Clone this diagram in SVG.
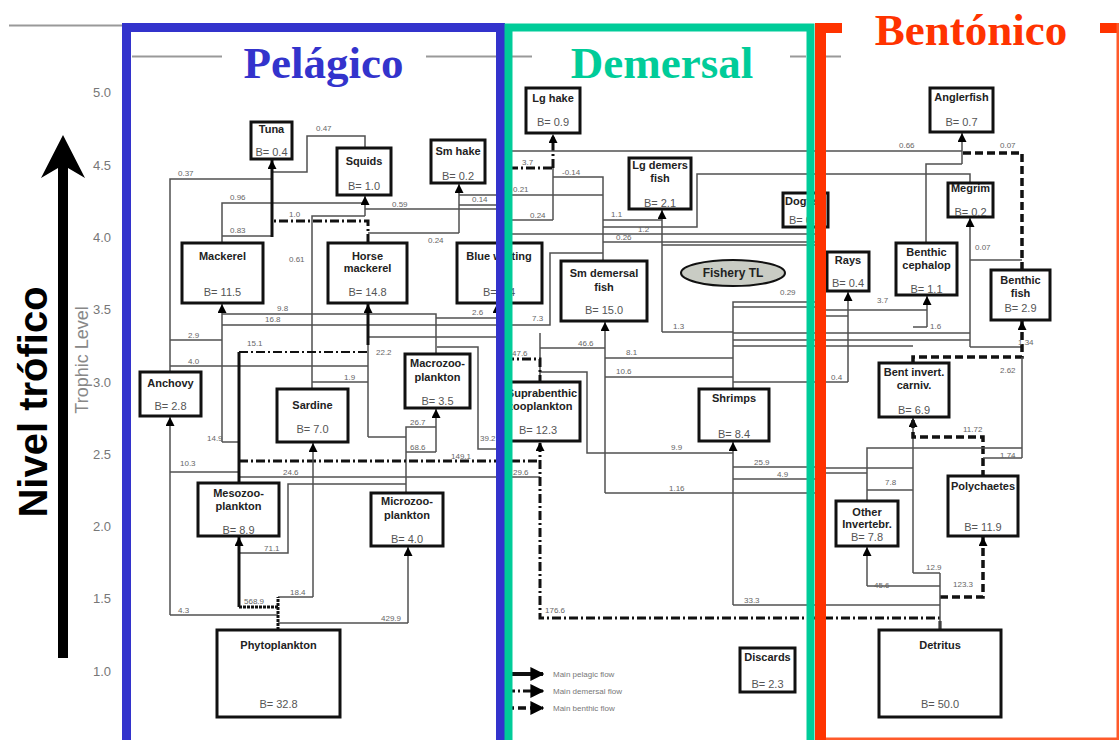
<svg xmlns="http://www.w3.org/2000/svg" width="1119" height="740" viewBox="0 0 1119 740">
<defs>
<marker id="ah" viewBox="0 0 10 10" refX="10" refY="5" markerWidth="10" markerHeight="9" orient="auto" markerUnits="userSpaceOnUse"><path d="M0,0 L10,5 L0,10 z" fill="#000"/></marker>
<marker id="ahL" viewBox="0 0 10 10" refX="9" refY="5" markerWidth="14" markerHeight="14" orient="auto" markerUnits="userSpaceOnUse"><path d="M0,0 L10,5 L0,10 z" fill="#000"/></marker>
<style>
.ln{fill:none;stroke:#505050;stroke-width:1.5}
.tk{fill:none;stroke:#111;stroke-width:3}
.dd{fill:none;stroke:#111;stroke-width:3;stroke-dasharray:9 3 2 3}
.ds{fill:none;stroke:#111;stroke-width:3.5;stroke-dasharray:8 4}
.box{fill:#fff;stroke:#111;stroke-width:3}
.nm{font-family:"Liberation Sans",Arial,sans-serif;font-weight:bold;font-size:11px;fill:#222;text-anchor:middle}
.bv{font-family:"Liberation Sans",Arial,sans-serif;font-size:11px;fill:#555;text-anchor:middle}
.n{font-family:"Liberation Sans",Arial,sans-serif;font-size:8px;fill:#666}
.tick{font-family:"Liberation Sans",Arial,sans-serif;font-size:13px;fill:#777;text-anchor:end}
.ttl{font-family:"Liberation Serif","Times New Roman",serif;font-weight:bold;font-size:45px;text-anchor:middle}
.lg{font-family:"Liberation Sans",Arial,sans-serif;font-size:8px;fill:#777}
</style>
</defs>
<rect width="1119" height="740" fill="#fff"/>

<g id="axis">
<line x1="9" y1="25.5" x2="122" y2="25.5" stroke="#999" stroke-width="2"/>
<polygon points="63,135 85,178 68,168 68,658 58,658 58,168 41,178" fill="#000"/>
<text transform="translate(47,402) rotate(-90)" font-family="Liberation Sans,Arial,sans-serif" font-weight="bold" font-size="40" text-anchor="middle" fill="#000">Nivel trófico</text>
<text transform="translate(88,360) rotate(-90)" font-family="Liberation Sans,Arial,sans-serif" font-size="18" text-anchor="middle" fill="#888">Trophic Level</text>
<text class="tick" x="111" y="97">5.0</text>
<text class="tick" x="111" y="170">4.5</text>
<text class="tick" x="111" y="242">4.0</text>
<text class="tick" x="111" y="314">3.5</text>
<text class="tick" x="111" y="387">3.0</text>
<text class="tick" x="111" y="459">2.5</text>
<text class="tick" x="111" y="531">2.0</text>
<text class="tick" x="111" y="603">1.5</text>
<text class="tick" x="111" y="676">1.0</text>
</g>

<g id="connectors">
<!-- pelagic -->
<path class="ln" d="M170,372 V179 H272"/>
<path class="ln" d="M365,148 V136 H307 V172 H272"/>
<path class="ln" d="M222,243 V203 H365"/>
<path class="ln" d="M222,236 H272"/>
<path class="ln" d="M312,389 V216 H365"/>
<path class="ln" d="M365,209 H500"/>
<path class="ln" d="M368,233 H459"/>
<path class="ln" d="M459,195 H603"/>
<path class="ln" d="M459,205 H505"/>
<path class="ln" d="M222,314 H436 V354"/>
<path class="ln" d="M436,318 H497"/>
<path class="ln" d="M603,253 H550 V325 H222"/>
<path class="ln" d="M170,340 H222"/>
<path class="ln" d="M170,366 H368"/>
<path class="ln" d="M368,337 H505"/>
<path class="ln" d="M312,382 H368"/>
<path class="ln" d="M222,442 H239"/>
<path class="ln" d="M406,493 V427 H436"/>
<path class="ln" d="M406,452 H436"/>
<path class="ln" d="M437,347 H478 V449 H505"/>
<path class="ln" d="M170,472 H239"/>
<path class="ln" d="M239,477 H540"/>
<path class="ln" d="M239,553 H288 V484 H406"/>
<path class="ln" d="M278,597 H313"/>
<path class="ln" d="M278,615 H170"/>
<path class="ln" d="M278,623 H408"/>
<path class="dd" d="M368,243 V221 H272"/>
<path class="dd" style="stroke-width:2" d="M239,352 H368"/>
<path class="dd" d="M239,461 H540"/>
<path class="tk" d="M239,483 V352"/>
<path class="tk" style="stroke-dasharray:3 1" d="M278,630 V597"/>
<path class="tk" style="stroke-dasharray:3 1" d="M278,607 H239"/>
<!-- pelagic input trunks -->
<path class="tk" marker-end="url(#ah)" d="M272,237 V160"/>
<path class="ln" marker-end="url(#ah)" d="M365,216 V196"/>
<path class="ln" marker-end="url(#ah)" d="M459,233 V184"/>
<path class="ln" marker-end="url(#ah)" d="M222,442 V304"/>
<path class="ln" d="M368,437 H406"/>
<path class="ln" d="M368,437 V340"/>
<path class="tk" marker-end="url(#ah)" d="M368,345 V304"/>
<path class="ln" marker-end="url(#ah)" d="M497,318 V304"/>
<path class="ln" marker-end="url(#ah)" d="M170,615 V417"/>
<path class="ln" marker-end="url(#ah)" d="M313,597 V443"/>
<path class="ln" marker-end="url(#ah)" d="M436,452 V409"/>
<path class="tk" marker-end="url(#ah)" d="M239,607 V537"/>
<path class="ln" marker-end="url(#ah)" d="M408,623 V547"/>

<!-- demersal -->
<path class="dd" d="M499,243 V168 H553"/>
<path class="ln" d="M553,220 V168"/>
<path class="dd" marker-end="url(#ah)" d="M553,168 V134"/>
<path class="ln" d="M603,261 V177 H553"/>
<path class="ln" d="M512,151 H962"/>
<path class="ln" d="M500,220 H553"/>
<path class="ln" d="M603,220 H662"/>
<path class="ln" marker-end="url(#ah)" d="M662,332 V210"/>
<path class="ln" d="M733,332 H662"/>
<path class="ln" d="M733,389 V302 H820"/>
<path class="ln" d="M733,307 H820"/>
<path class="ln" d="M970,183 V174 H697 V227 H603"/>
<path class="ln" d="M505,234 H820"/>
<path class="ln" d="M603,242 H820"/>
<path class="ln" d="M662,245 H820"/>
<path class="ln" marker-end="url(#ah)" d="M605,493 V322"/>
<path class="ln" d="M540,382 V333"/>
<path class="ln" d="M540,348 H605"/>
<path class="ln" d="M605,358 H733"/>
<path class="ln" d="M605,377 H733"/>
<path class="ln" d="M540,372 H587 V453 H733"/>
<path class="ln" d="M605,493 H820"/>
<path class="dd" d="M505,359 H540 V382"/>
<path class="dd" marker-end="url(#ah)" d="M940,630 V618 H540 V442"/>
<path class="ln" marker-end="url(#ah)" d="M733,605 V442"/>
<path class="ln" d="M733,605 H940"/>
<path class="ln" d="M733,467 H820"/>
<path class="ln" d="M733,479 H820"/>
<path class="ln" d="M733,333 H970"/>
<path class="ln" d="M733,340 H970"/>
<path class="ln" d="M733,346 H913"/>
<path class="ln" d="M733,382 H848"/>

<!-- benthic -->
<path class="ln" marker-end="url(#ah)" d="M962,164 V133"/>
<path class="ds" d="M1022,270 V153 H962"/>
<path class="ln" d="M962,164 H926 V243"/>
<path class="ln" marker-end="url(#ah)" d="M970,347 V218"/>
<path class="ln" d="M1022,260 H970"/>
<path class="ln" marker-end="url(#ah)" d="M848,382 V292"/>
<path class="ln" marker-end="url(#ah)" d="M927,327 V296"/>
<path class="ln" d="M820,310 H927"/>
<path class="ln" d="M913,327 H927"/>
<path class="ln" d="M820,316 H848"/>
<path class="ln" d="M970,347 H1022"/>
<path class="ds" marker-end="url(#ah)" d="M913,363 V357 H1022 V321"/>
<path class="ln" d="M1022,357 V458"/>
<path class="ln" marker-end="url(#ah)" d="M913,573 V418"/>
<path class="ds" d="M913,420 V437 H983 V476"/>
<path class="ln" d="M913,573 H940"/>
<path class="ln" d="M867,501 V448 H1022"/>
<path class="ln" d="M983,458 H1022"/>
<path class="ln" d="M820,468 H913"/>
<path class="ln" d="M820,473 H867"/>
<path class="ln" d="M867,490 H913"/>
<path class="ln" marker-end="url(#ah)" d="M867,586 V547"/>
<path class="ln" d="M867,586 H940"/>
<path class="ds" marker-end="url(#ah)" d="M940,597 H983 V537"/>
<path class="ln" d="M940,630 V573"/>
</g>

<g id="flow-labels">
<text class="n" x="316" y="131">0.47</text>
<text class="n" x="178" y="176">0.37</text>
<text class="n" x="230" y="200">0.96</text>
<text class="n" x="289" y="217">1.0</text>
<text class="n" x="230" y="233">0.83</text>
<text class="n" x="392" y="207">0.59</text>
<text class="n" x="472" y="202">0.14</text>
<text class="n" x="428" y="243">0.24</text>
<text class="n" x="289" y="262">0.61</text>
<text class="n" x="277" y="311">9.8</text>
<text class="n" x="265" y="322">16.8</text>
<text class="n" x="188" y="338">2.9</text>
<text class="n" x="247" y="346">15.1</text>
<text class="n" x="188" y="364">4.0</text>
<text class="n" x="376" y="355">22.2</text>
<text class="n" x="344" y="380">1.9</text>
<text class="n" x="472" y="315">2.6</text>
<text class="n" x="207" y="441">14.9</text>
<text class="n" x="410" y="425">26.7</text>
<text class="n" x="410" y="450">68.6</text>
<text class="n" x="480" y="441">39.2</text>
<text class="n" x="451" y="459">149.1</text>
<text class="n" x="180" y="466">10.3</text>
<text class="n" x="283" y="475">24.6</text>
<text class="n" x="264" y="551">71.1</text>
<text class="n" x="290" y="595">18.4</text>
<text class="n" x="244" y="604">568.9</text>
<text class="n" x="178" y="613">4.3</text>
<text class="n" x="381" y="621">429.9</text>
<text class="n" x="522" y="165">3.7</text>
<text class="n" x="562" y="175">-0.14</text>
<text class="n" x="513" y="192">0.21</text>
<text class="n" x="530" y="218">0.24</text>
<text class="n" x="611" y="217">1.1</text>
<text class="n" x="638" y="232">1.2</text>
<text class="n" x="616" y="240">0.26</text>
<text class="n" x="532" y="321">7.3</text>
<text class="n" x="673" y="329">1.3</text>
<text class="n" x="780" y="295">0.29</text>
<text class="n" x="512" y="356">47.6</text>
<text class="n" x="578" y="346">46.6</text>
<text class="n" x="626" y="355">8.1</text>
<text class="n" x="616" y="374">10.6</text>
<text class="n" x="671" y="450">9.9</text>
<text class="n" x="754" y="465">25.9</text>
<text class="n" x="777" y="477">4.9</text>
<text class="n" x="669" y="491">1.16</text>
<text class="n" x="513" y="475">29.6</text>
<text class="n" x="545" y="613">176.6</text>
<text class="n" x="744" y="603">33.3</text>
<text class="n" x="899" y="148">0.66</text>
<text class="n" x="1000" y="148">0.07</text>
<text class="n" x="975" y="250">0.07</text>
<text class="n" x="877" y="303">3.7</text>
<text class="n" x="930" y="329">1.6</text>
<text class="n" x="831" y="380">0.4</text>
<text class="n" x="822" y="319">7</text>
<text class="n" x="1018" y="345">1.34</text>
<text class="n" x="1000" y="373">2.62</text>
<text class="n" x="963" y="432">11.72</text>
<text class="n" x="1000" y="458">1.74</text>
<text class="n" x="885" y="485">7.8</text>
<text class="n" x="926" y="570">12.9</text>
<text class="n" x="874" y="588">45.6</text>
<text class="n" x="953" y="587">123.3</text>
</g>

<g id="tuna"><rect class="box" x="251" y="122" width="41" height="37"/><text class="nm" x="271.5" y="133">Tuna</text><text class="bv" x="271.5" y="156">B= 0.4</text></g>
<g id="squids"><rect class="box" x="337" y="148" width="54" height="47"/><text class="nm" x="364" y="165">Squids</text><text class="bv" x="364" y="190">B= 1.0</text></g>
<g id="smhake"><rect class="box" x="431" y="140" width="54" height="43"/><text class="nm" x="458" y="155">Sm hake</text><text class="bv" x="458" y="180">B= 0.2</text></g>
<g id="mackerel"><rect class="box" x="182" y="243" width="81" height="60"/><text class="nm" x="222.5" y="260">Mackerel</text><text class="bv" x="222.5" y="296">B= 11.5</text></g>
<g id="horsemackerel"><rect class="box" x="328" y="243" width="79" height="60"/><text class="nm" x="367.5" y="260">Horse</text><text class="nm" x="367.5" y="272">mackerel</text><text class="bv" x="367.5" y="296">B= 14.8</text></g>
<g id="bluewhiting"><rect class="box" x="457" y="243" width="85" height="60"/><text class="nm" x="499" y="260">Blue whiting</text><text class="bv" x="499" y="296">B= 1.4</text></g>
<g id="anchovy"><rect class="box" x="140" y="372" width="61" height="44"/><text class="nm" x="170.5" y="387">Anchovy</text><text class="bv" x="170.5" y="410">B= 2.8</text></g>
<g id="sardine"><rect class="box" x="277" y="389" width="71" height="53"/><text class="nm" x="312.5" y="409">Sardine</text><text class="bv" x="312.5" y="433">B= 7.0</text></g>
<g id="macrozoo"><rect class="box" x="405" y="354" width="65" height="54"/><text class="nm" x="437.5" y="367">Macrozoo-</text><text class="nm" x="437.5" y="381">plankton</text><text class="bv" x="437.5" y="405">B= 3.5</text></g>
<g id="mesozoo"><rect class="box" x="198" y="483" width="81" height="53"/><text class="nm" x="238.5" y="497">Mesozoo-</text><text class="nm" x="238.5" y="510">plankton</text><text class="bv" x="238.5" y="534">B= 8.9</text></g>
<g id="microzoo"><rect class="box" x="371" y="493" width="72" height="53"/><text class="nm" x="407" y="505">Microzoo-</text><text class="nm" x="407" y="519">plankton</text><text class="bv" x="407" y="543">B= 4.0</text></g>
<g id="phyto"><rect class="box" x="217" y="630" width="123" height="87"/><text class="nm" x="278.5" y="649">Phytoplankton</text><text class="bv" x="278.5" y="708">B= 32.8</text></g>

<g id="lghake"><rect class="box" x="526" y="88" width="54" height="45"/><text class="nm" x="553" y="102">Lg hake</text><text class="bv" x="553" y="126">B= 0.9</text></g>
<g id="lgdemers"><rect class="box" x="629" y="158" width="62" height="51"/><text class="nm" x="660" y="169">Lg demers</text><text class="nm" x="660" y="182">fish</text><text class="bv" x="660" y="207">B= 2.1</text></g>
<g id="dogfish"><rect class="box" x="783" y="193" width="45" height="34"/><text class="nm" x="785" y="205" style="text-anchor:start">Dogfish</text><text class="bv" x="789" y="224" style="text-anchor:start">B= 0.1</text></g>
<g id="smdemersal"><rect class="box" x="561" y="261" width="86" height="60"/><text class="nm" x="604" y="277">Sm demersal</text><text class="nm" x="604" y="291">fish</text><text class="bv" x="604" y="314">B= 15.0</text></g>
<g id="fisherytl"><ellipse cx="733" cy="273" rx="52" ry="13" fill="#c9ccc4" stroke="#111" stroke-width="2"/><text class="nm" x="733" y="277" style="font-size:12px">Fishery TL</text></g>
<g id="suprabenthic"><rect class="box" x="498" y="382" width="82" height="59"/><text class="nm" x="542" y="397">Suprabenthic</text><text class="nm" x="540" y="410">zooplankton</text><text class="bv" x="538" y="434">B= 12.3</text></g>
<g id="shrimps"><rect class="box" x="699" y="389" width="70" height="52"/><text class="nm" x="734" y="402">Shrimps</text><text class="bv" x="734" y="438">B= 8.4</text></g>
<g id="discards"><rect class="box" x="740" y="648" width="55" height="44"/><text class="nm" x="767.5" y="661">Discards</text><text class="bv" x="767.5" y="688">B= 2.3</text></g>

<g id="anglerfish"><rect class="box" x="930" y="88" width="63" height="44"/><text class="nm" x="961.5" y="101">Anglerfish</text><text class="bv" x="961.5" y="126">B= 0.7</text></g>
<g id="megrim"><rect class="box" x="948" y="183" width="45" height="34"/><text class="nm" x="970.5" y="192">Megrim</text><text class="bv" x="970.5" y="216">B= 0.2</text></g>
<g id="rays"><rect class="box" x="827" y="252" width="42" height="39"/><text class="nm" x="848" y="264">Rays</text><text class="bv" x="848" y="287">B= 0.4</text></g>
<g id="benthiccephalop"><rect class="box" x="896" y="243" width="61" height="52"/><text class="nm" x="926.5" y="256">Benthic</text><text class="nm" x="926.5" y="269">cephalop</text><text class="bv" x="926.5" y="293">B= 1.1</text></g>
<g id="benthicfish"><rect class="box" x="991" y="270" width="59" height="50"/><text class="nm" x="1020.5" y="284">Benthic</text><text class="nm" x="1020.5" y="297">fish</text><text class="bv" x="1020.5" y="312">B= 2.9</text></g>
<g id="bentinvert"><rect class="box" x="879" y="363" width="70" height="54"/><text class="nm" x="914" y="376">Bent invert.</text><text class="nm" x="914" y="389">carniv.</text><text class="bv" x="914" y="414">B= 6.9</text></g>
<g id="polychaetes"><rect class="box" x="948" y="476" width="70" height="60"/><text class="nm" x="983" y="490">Polychaetes</text><text class="bv" x="983" y="531">B= 11.9</text></g>
<g id="otherinvert"><rect class="box" x="836" y="501" width="62" height="45"/><text class="nm" x="867" y="516">Other</text><text class="nm" x="867" y="528">Invertebr.</text><text class="bv" x="867" y="541">B= 7.8</text></g>
<g id="detritus"><rect class="box" x="879" y="630" width="122" height="87"/><text class="nm" x="940" y="649">Detritus</text><text class="bv" x="940" y="708">B= 50.0</text></g>

<g id="legend">
<line x1="506" y1="674" x2="543" y2="674" stroke="#111" stroke-width="4" marker-end="url(#ahL)"/>
<line x1="506" y1="691" x2="543" y2="691" class="dd" marker-end="url(#ahL)"/>
<line x1="506" y1="708" x2="543" y2="708" class="ds" marker-end="url(#ahL)"/>
<text class="lg" x="553" y="677">Main pelagic flow</text>
<text class="lg" x="553" y="694">Main demersal flow</text>
<text class="lg" x="553" y="711">Main benthic flow</text>
</g>

<g id="frames">
<line x1="132" y1="56.5" x2="222" y2="56.5" stroke="#999" stroke-width="2"/>
<line x1="426" y1="56.5" x2="496" y2="56.5" stroke="#999" stroke-width="2"/>
<line x1="512" y1="56.5" x2="532" y2="56.5" stroke="#999" stroke-width="2"/>
<line x1="790" y1="56.5" x2="806" y2="56.5" stroke="#999" stroke-width="2"/>
<line x1="826" y1="56.5" x2="841" y2="56.5" stroke="#999" stroke-width="2"/>
<rect x="126.5" y="27.5" width="374" height="720" fill="none" stroke="#3333cc" stroke-width="9"/>
<rect x="508.5" y="27.5" width="302" height="720" fill="none" stroke="#00cc99" stroke-width="8"/>
<rect x="815" y="23" width="11" height="717" fill="#ff3300"/>
<rect x="815" y="23" width="27" height="10" fill="#ff3300"/>
<rect x="1100" y="23" width="19" height="10" fill="#ff3300"/>
<rect x="1116.5" y="23" width="2.5" height="717" fill="#ff5a2a"/>
<rect x="826" y="737.5" width="293" height="2.5" fill="#ff5a2a"/>
</g>

<g id="titles">
<text class="ttl" x="323.5" y="78" fill="#3333cc">Pelágico</text>
<text class="ttl" x="662" y="78" fill="#00cc99">Demersal</text>
<text class="ttl" x="971" y="45" fill="#ff3300">Bentónico</text>
</g>
</svg>
